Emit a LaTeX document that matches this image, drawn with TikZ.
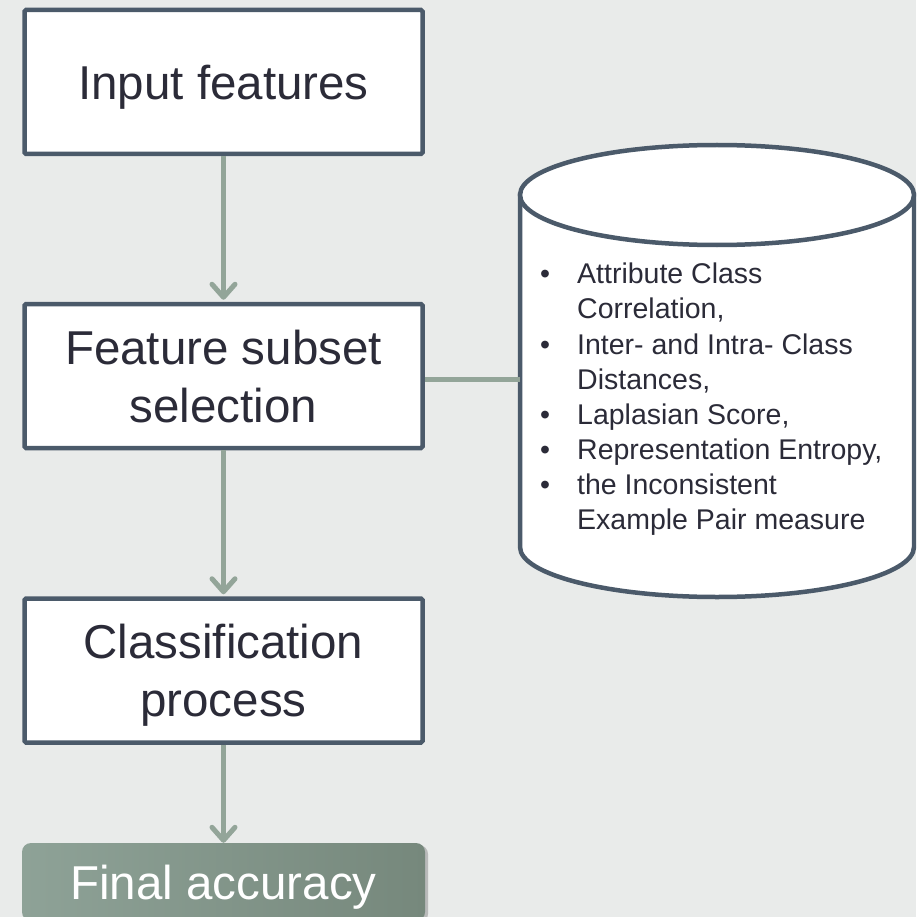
\documentclass[tikz,border=0pt]{standalone}
\usepackage{fontspec}
\setmainfont{Liberation Sans}
\usetikzlibrary{arrows.meta,shadows}

\definecolor{bgcol}{HTML}{E9EBEA}
\definecolor{edgecol}{HTML}{4B5A6A}
\definecolor{linkcol}{HTML}{93A599}
\definecolor{inkcol}{HTML}{2B2B38}
\definecolor{accL}{HTML}{8EA297}
\definecolor{accR}{HTML}{76887C}

\tikzset{
  stagebox/.style={draw=edgecol, line width=4.5pt, fill=white, rounded corners=1.5pt,
    minimum width=398pt, minimum height=144pt, inner sep=0pt, align=center,
    text=inkcol, text depth=0pt, font=\fontsize{47.5}{58}\selectfont},
  resultbox/.style={rounded corners=9pt, left color=accL, right color=accR,
    minimum width=403pt, minimum height=78pt, inner sep=0pt, text=white,
    text depth=0pt, font=\fontsize{47.5}{58}\selectfont,
    drop shadow={shadow xshift=3pt, shadow yshift=-2pt, opacity=0.3, fill=black!70}},
  link/.style={draw=linkcol, line width=5pt},
  flow/.style={link, -{Straight Barb[length=13pt,width=23pt,line cap=round,round]}},
  dbshape/.style={draw=edgecol, line width=4.5pt, fill=white},
}

\begin{document}
\begin{tikzpicture}[x=1pt, y=-1pt]
  \fill[bgcol] (0,0) rectangle (916,917);
  \clip (0,0) rectangle (916,917);
  \useasboundingbox (0,0) rectangle (916,917);

  % measures store
  \path[dbshape] (520,195) -- (520,547)
    arc[start angle=180, end angle=360, x radius=197pt, y radius=50pt]
    -- (914,195) -- cycle;
  \path[dbshape] (717,195) ellipse [x radius=197pt, y radius=50pt];
  \coordinate (cylL) at (520,379);

  \node[anchor=north west, inner sep=0pt, text=inkcol, align=left,
        font=\fontsize{28.5}{35.1}\selectfont] (measures) at (540,263) {%
    \makebox[37pt][l]{\textbullet}Attribute Class\\
    \hspace*{37pt}Correlation,\\
    \makebox[37pt][l]{\textbullet}Inter- and Intra- Class\\
    \hspace*{37pt}Distances,\\
    \makebox[37pt][l]{\textbullet}Laplasian Score,\\
    \makebox[37pt][l]{\textbullet}Representation Entropy,\\
    \makebox[37pt][l]{\textbullet}the Inconsistent\\
    \hspace*{37pt}Example Pair measure};

  % pipeline stages
  \node[stagebox] (input) at (223.5,82) {Input features};
  \node[stagebox] (subset) at (223.5,376) {Feature subset\\selection};
  \node[stagebox] (classify) at (223.5,670.5) {Classification\\process};
  \node[resultbox] (accuracy) at (223.5,882) {Final accuracy};

  \draw[flow] (input.south) -- ([yshift=2pt]subset.north);
  \draw[flow] (subset.south) -- ([yshift=2pt]classify.north);
  \draw[flow] (classify.south) -- (accuracy.north);
  \draw[link] (cylL) -- (cylL -| subset.east);
\end{tikzpicture}
\end{document}
